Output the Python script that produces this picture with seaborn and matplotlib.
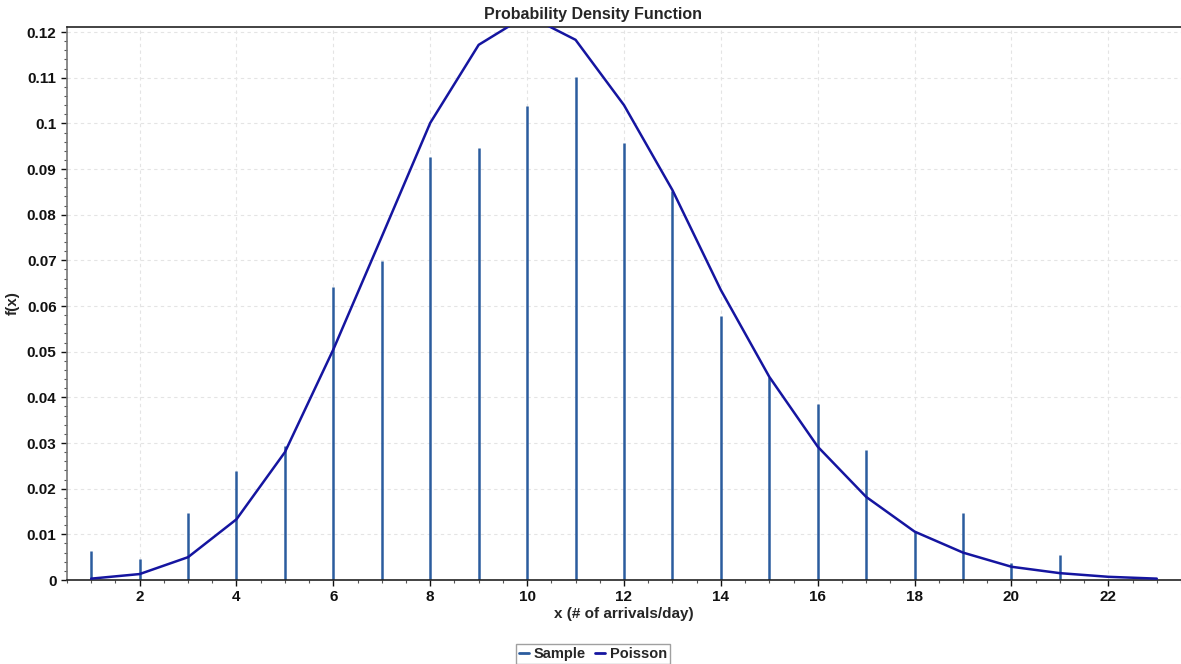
import numpy as np
import pandas as pd
import matplotlib
matplotlib.use("Agg")
import matplotlib.pyplot as plt
from matplotlib.ticker import MultipleLocator, FuncFormatter
from matplotlib.lines import Line2D
import seaborn as sns

# values
x_vals = list(range(1, 24))
sample_vals = [0.0063, 0.0045, 0.0147, 0.0238, 0.0293, 0.0641, 0.0698, 0.0926,
               0.0945, 0.1037, 0.1101, 0.0956, 0.0851, 0.0578, 0.0444, 0.0385,
               0.0284, 0.0105, 0.0147, 0.0037, 0.0055, 0.0, 0.0]
poisson_vals = [0.0003, 0.0013, 0.0050, 0.0133, 0.0280, 0.0505, 0.0752, 0.1001,
                0.1172, 0.1237, 0.1183, 0.1040, 0.0854, 0.0635, 0.0445, 0.0292,
                0.0182, 0.0106, 0.0060, 0.0029, 0.0015, 0.0007, 0.0003]

sample_color = "#2b5c9e"
poisson_color = "#1515a0"

df = pd.DataFrame({"x": x_vals, "Sample": sample_vals, "Poisson": poisson_vals})

sns.set_style("white")
plt.rcParams["font.family"] = ["Liberation Sans", "DejaVu Sans"]
plt.rcParams["font.weight"] = "bold"

fig = plt.figure(figsize=(11.81, 6.64), dpi=100)
ax = fig.add_axes([0.0567, 0.1265, 0.9433, 0.8328])

stems = df[df["Sample"] > 0]
ax.vlines(stems["x"], 0, stems["Sample"], color=sample_color, linewidth=1.8, zorder=2)
sns.lineplot(data=df, x="x", y="Poisson", ax=ax, color=poisson_color,
             linewidth=1.8, zorder=3, legend=False)

ax.set_xlim(0.5, 23.5)
ax.set_ylim(0, 0.1211)

ax.xaxis.set_major_locator(MultipleLocator(2))
ax.xaxis.set_minor_locator(MultipleLocator(0.5))
ax.yaxis.set_major_locator(MultipleLocator(0.01))
ax.yaxis.set_minor_locator(MultipleLocator(0.002))
ax.yaxis.set_major_formatter(FuncFormatter(lambda v, p: "0" if abs(v) < 1e-9 else f"{v:.2f}".rstrip("0")))
ax.set_xticks([t for t in range(2, 23, 2)])

ax.grid(True, which="major", color="#e4e4e4", linestyle=(0, (3, 3)), linewidth=0.8)
ax.set_axisbelow(True)

for side in ["left", "bottom", "top"]:
    ax.spines[side].set_color("#222222")
    ax.spines[side].set_linewidth(1.2)
ax.spines["right"].set_visible(False)
ax.spines["left"].set_color("#777777")

ax.tick_params(axis="both", which="major", length=4, width=1, direction="out",
               labelsize=11, colors="#111111", bottom=True, left=True)
ax.tick_params(axis="both", which="minor", length=2, width=0.8, direction="out",
               bottom=True, left=True, colors="#555555")
for lbl in ax.get_xticklabels() + ax.get_yticklabels():
    lbl.set_fontweight("bold")

ax.set_xlabel("x (# of arrivals/day)", fontsize=11, fontweight="bold", labelpad=2)
ax.set_ylabel("f(x)", fontsize=11, fontweight="bold", labelpad=12)
ax.yaxis.set_label_coords(-0.042, 0.5)

fig.text(0.502, 0.978, "Probability Density Function", ha="center", va="center",
         fontsize=11.5, fontweight="bold")

handles = [Line2D([0], [0], color=sample_color, lw=2),
           Line2D([0], [0], color=poisson_color, lw=2)]
fig.legend(handles, ["Sample", "Poisson"], loc="center", bbox_to_anchor=(0.502, 0.0155),
           ncol=2, frameon=True, fancybox=False, edgecolor="#888888",
           handlelength=0.7, handletextpad=0.35, columnspacing=0.6,
           borderpad=0.2, borderaxespad=0.1, prop={"weight": "bold", "size": 10.5})

fig.savefig("out.png", dpi=100)
